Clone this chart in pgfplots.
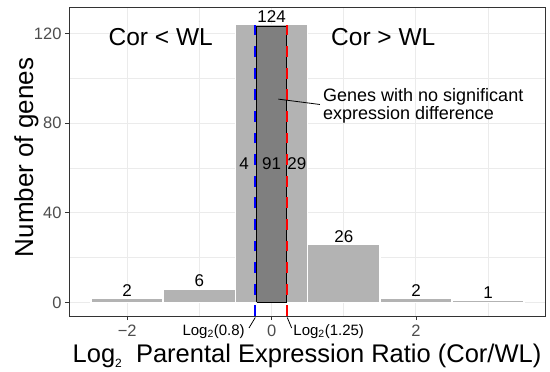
\documentclass[border=0pt]{standalone}
\usepackage{fontspec}
\setmainfont{Liberation Sans}
\usepackage{pgfplots}
\usepackage{pgfplotstable}
\pgfplotsset{compat=1.18}
\definecolor{barfill}{HTML}{B3B3B3}
\definecolor{darkfill}{HTML}{7F7F7F}
\definecolor{gridc}{HTML}{EBEBEB}
\definecolor{framec}{HTML}{333333}
\definecolor{ticktext}{HTML}{4D4D4D}

\pgfplotstableread{
x y
-2 2
-1 6
0 124
1 26
2 2
3 1
}\bins

\begin{document}
\begin{tikzpicture}
\useasboundingbox (-69bp,-56bp) rectangle (481bp,316bp);
\begin{axis}[
  at={(0,0)}, anchor=south west,
  scale only axis, width=476bp, height=309bp,
  xmin=-2.806, xmax=3.787, ymin=-6.07, ymax=131.8,
  clip=false,
  /pgf/number format/assume math mode=true,
  axis line style={framec, line width=0.8bp},
  xtick={-2,0,2}, xticklabels={−2,0,2},
  ytick={0,40,80,120}, yticklabels={0,40,80,120},
  minor xtick={-1,1,3}, minor ytick={20,60,100},
  grid=both,
  major grid style={gridc, line width=1bp},
  minor grid style={gridc, line width=0.6bp},
  tick align=outside, tick pos=left,
  major tick length=4bp, minor tick length=0pt,
  tick style={framec, line width=0.8bp},
  xticklabel style={font=\fontsize{16.5bp}{18bp}\selectfont, text=ticktext, inner sep=0pt, anchor=north, yshift=-4.5bp},
  yticklabel style={font=\fontsize{16.5bp}{18bp}\selectfont, text=ticktext, inner sep=0pt, anchor=east, xshift=-3.3bp},
  xlabel={Log{\fontsize{12bp}{12bp}\selectfont\raisebox{-5bp}{2}}\ \ Parental Expression Ratio (Cor/WL)},
  xlabel style={at={(axis description cs:0.5,-0.152)}, anchor=base, inner sep=0pt, font=\fontsize{25.5bp}{30bp}\selectfont},
  ylabel={Number of genes},
  ylabel style={at={(axis description cs:-0.0756,0.513)}, anchor=base, inner sep=0pt, font=\fontsize{26bp}{30bp}\selectfont},
]
\addplot[ybar, bar width=1, bar shift=0pt, fill=barfill, draw=white, line width=1.6bp,
  nodes near coords, nodes near coords style={anchor=south, inner sep=0pt, yshift=1bp, text=black, font=\fontsize{17bp}{18bp}\selectfont}]
  table[x=x, y=y] {\bins};
\addplot[fill=darkfill, draw=black, line width=1bp] coordinates {(-0.206,0) (-0.206,123.3) (0.2,123.3) (0.2,0) (-0.206,0)};
\addplot[blue, line width=2bp, dash pattern=on 10.8bp off 10.8bp] coordinates {(-0.23,-6.2) (-0.23,125.9)};
\addplot[red, line width=2bp, dash pattern=on 10.8bp off 10.8bp] coordinates {(0.217,-6.2) (0.217,125.9)};
\addplot[black, line width=0.8bp] coordinates {(-0.226,-6.74) (-0.313,-11.42)};
\addplot[black, line width=0.8bp] coordinates {(0.217,-6.74) (0.278,-11.42)};
\addplot[black, line width=0.8bp] coordinates {(0.093,90.7) (0.67,88.3)};
\node[anchor=base east, inner sep=0pt, font=\fontsize{15bp}{18bp}\selectfont] at (axis cs:-0.369,-14.8) {Log\textsubscript{2}(0.8)};
\node[anchor=base west, inner sep=0pt, font=\fontsize{15bp}{18bp}\selectfont] at (axis cs:0.300,-14.8) {Log\textsubscript{2}(1.25)};
\node[anchor=base, inner sep=0pt, font=\fontsize{17bp}{18bp}\selectfont] at (axis cs:-0.38,59.4) {4};
\node[anchor=base, inner sep=0pt, font=\fontsize{17bp}{18bp}\selectfont] at (axis cs:0,59.4) {91};
\node[anchor=base, inner sep=0pt, font=\fontsize{17bp}{18bp}\selectfont] at (axis cs:0.35,59.4) {29};
\node[anchor=base west, inner sep=0pt, font=\fontsize{18bp}{20bp}\selectfont] at (axis cs:0.712,89.5) {Genes with no significant};
\node[anchor=base west, inner sep=0pt, font=\fontsize{18bp}{20bp}\selectfont] at (axis cs:0.712,81.7) {expression difference};
\node[anchor=base, inner sep=0pt, font=\fontsize{24.5bp}{28bp}\selectfont] at (axis cs:-1.535,114.8) {Cor < WL};
\node[anchor=base, inner sep=0pt, font=\fontsize{24.5bp}{28bp}\selectfont] at (axis cs:1.547,114.8) {Cor > WL};
\end{axis}
\end{tikzpicture}
\end{document}
